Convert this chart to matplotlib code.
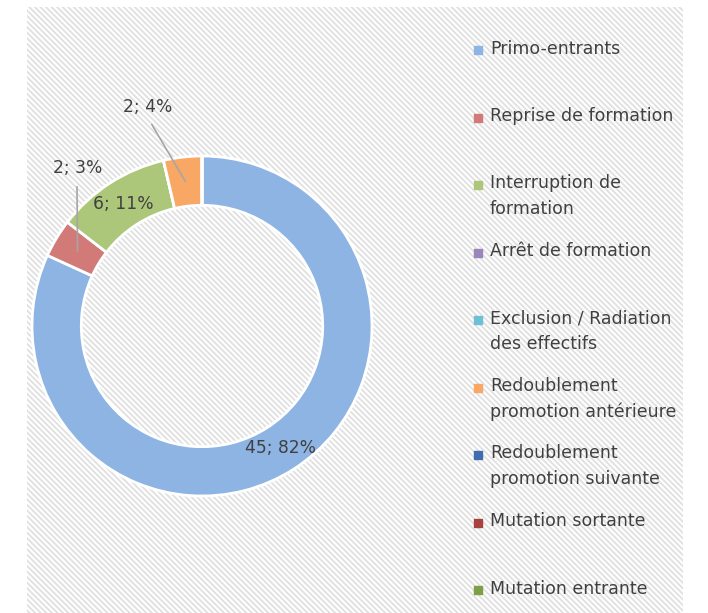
import numpy as np
import matplotlib
matplotlib.use("Agg")
import matplotlib.pyplot as plt
from matplotlib.patches import Rectangle

# data
categories = ["Primo-entrants", "Reprise de formation", "Interruption de\nformation",
              "Arrêt de formation", "Exclusion / Radiation\ndes effectifs",
              "Redoublement\npromotion antérieure", "Redoublement\npromotion suivante",
              "Mutation sortante", "Mutation entrante"]
values = [45, 2, 6, 0, 0, 2, 0, 0, 0]
pct_labels = ["82%", "3%", "11%", "", "", "4%", "", "", ""]
colors = ["#8DB4E2", "#D27A77", "#ADC77A", "#9B86BC", "#6FC0D6",
          "#F9A765", "#3F6DAF", "#A8423F", "#7F9E48"]

TXT = "#404040"
plt.rcParams["hatch.linewidth"] = 1.3
plt.rcParams["font.family"] = "DejaVu Sans"

W, H = 708, 613
fig = plt.figure(figsize=(W / 100, H / 100), dpi=100)

# background axes in pixel units: hatched area + legend
bax = fig.add_axes([0, 0, 1, 1], zorder=0)
bax.set_xlim(0, W)
bax.set_ylim(H, 0)
bax.axis("off")
bax.add_patch(Rectangle((27, 7), 683 - 27, H - 7, facecolor="white",
                        edgecolor="#e0e0e0", hatch="\\" * 6, lw=0, zorder=0))

# donut
cx, cy, r = 202, 326, 170
ax = fig.add_axes([(cx - r) / W, (H - cy - r) / H, 2 * r / W, 2 * r / H], zorder=2)
wedges, _ = ax.pie(values, colors=colors, startangle=90, counterclock=False,
                   wedgeprops=dict(width=0.29, edgecolor="white", linewidth=2))
ax.set_xlim(-1, 1)
ax.set_ylim(-1, 1)
ax.axis("off")

mid_r = 0.855
# label placement for the non-zero slices (None = inside the ring)
label_pos = {0: None, 2: None, 1: (-0.73, 0.93), 5: (-0.32, 1.29)}
for i, w in enumerate(wedges):
    if values[i] == 0:
        continue
    ang = np.deg2rad((w.theta1 + w.theta2) / 2)
    xm, ym = mid_r * np.cos(ang), mid_r * np.sin(ang)
    txt = f"{values[i]}; {pct_labels[i]}"
    if label_pos[i] is None:
        ax.text(xm, ym, txt, ha="center", va="center", fontsize=12.3, color=TXT)
    else:
        tx, ty = label_pos[i]
        ax.annotate(txt, xy=(xm, ym), xytext=(tx, ty), ha="center", va="center",
                    fontsize=12.3, color=TXT, annotation_clip=False,
                    arrowprops=dict(arrowstyle="-", color="#a6a6a6", lw=1.2,
                                    relpos=(0.48, 0), shrinkA=5, shrinkB=0))

# legend (evenly spaced like the source chart)
y0, step = 50, 67.5
for i, (cat, col) in enumerate(zip(categories, colors)):
    y = y0 + i * step
    bax.scatter([478], [y], marker="s", s=26, color=col, zorder=3)
    bax.text(490, y - 10.5, cat, ha="left", va="top", fontsize=12.5,
             color=TXT, linespacing=1.55)

fig.savefig("out.png", dpi=100)
